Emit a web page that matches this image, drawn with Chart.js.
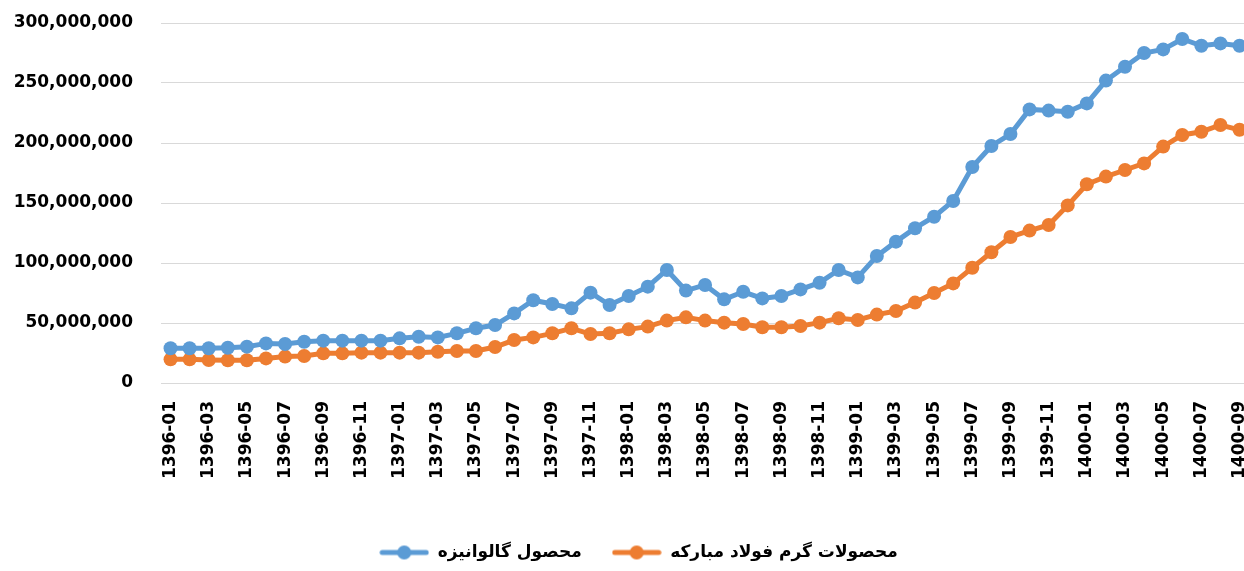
<!DOCTYPE html>
<html>
<head>
<meta charset="utf-8">
<script src="https://cdn.jsdelivr.net/npm/chart.js@4"></script>
<style>
  body { margin: 0; overflow: hidden; background: #fff; }
  #wrap { width: 1278px; height: 571px; }
</style>
</head>
<body>
<div id="wrap"><canvas id="chart"></canvas></div>
<script>
// months (Persian calendar)
const months = [
  "1396-01","1396-02","1396-03","1396-04","1396-05","1396-06","1396-07","1396-08","1396-09","1396-10","1396-11","1396-12",
  "1397-01","1397-02","1397-03","1397-04","1397-05","1397-06","1397-07","1397-08","1397-09","1397-10","1397-11","1397-12",
  "1398-01","1398-02","1398-03","1398-04","1398-05","1398-06","1398-07","1398-08","1398-09","1398-10","1398-11","1398-12",
  "1399-01","1399-02","1399-03","1399-04","1399-05","1399-06","1399-07","1399-08","1399-09","1399-10","1399-11","1399-12",
  "1400-01","1400-02","1400-03","1400-04","1400-05","1400-06","1400-07","1400-08","1400-09"
];

// values in millions
const galvanized = [
  29, 29, 29, 29.4, 30.3, 33, 32.5, 34.4, 35.3, 35.3, 35.3, 35.3,
  37.2, 38.6, 38, 41.4, 45.6, 48.3, 58, 69, 65.8, 62.2, 75.3, 65,
  72.5, 80.3, 94.2, 77, 81.7, 69.7, 76, 70.5, 72.5, 78, 83.6, 94.2,
  88, 105.8, 117.8, 129, 138.6, 151.7, 180, 197.5, 207.5, 228, 227, 226,
  233, 252, 263.6, 275, 278, 286.7, 281, 283, 281
];
const hotRolled = [
  19.7, 19.7, 19.2, 19, 19, 20.5, 22, 22.5, 24.7, 24.7, 25.3, 25.3,
  25.3, 25.3, 26, 26.7, 26.7, 30, 35.8, 38, 41.4, 45.6, 40.8, 41.4,
  44.7, 47, 52, 54.7, 52, 50.3, 49.2, 46.4, 46.4, 47.5, 50.3, 53.9,
  52.5, 57, 60, 67, 75, 83, 96, 109, 121.7, 127, 131.7, 148,
  165.6, 172, 177.5, 183, 197, 206.7, 209.4, 215, 211
];

const seriesNames = ["محصول گالوانیزه", "محصولات گرم فولاد مبارکه"];
const yTicks = [0, 50, 100, 150, 200, 250, 300];

const blue = "#5B9BD5";
const orange = "#ED7D31";
const font = "DejaVu Sans";

// legend marker: line with a dot
function legendMarker(color) {
  const c = document.createElement("canvas");
  c.width = 50;
  c.height = 16;
  const g = c.getContext("2d");
  g.strokeStyle = color;
  g.lineWidth = 5;
  g.lineCap = "round";
  g.beginPath();
  g.moveTo(3, 8);
  g.lineTo(47, 8);
  g.stroke();
  g.fillStyle = color;
  g.beginPath();
  g.arc(25, 8, 7, 0, Math.PI * 2);
  g.fill();
  return c;
}

function makeSet(label, data, color) {
  return {
    label,
    data,
    borderColor: color,
    backgroundColor: color,
    borderWidth: 5,
    pointRadius: 7,
    pointHoverRadius: 7,
    pointBorderWidth: 0,
    pointStyle: "circle",
    tension: 0,
    fill: false
  };
}

const markers = [legendMarker(blue), legendMarker(orange)];

new Chart(document.getElementById("chart"), {
  type: "line",
  data: {
    labels: months,
    datasets: [
      makeSet(seriesNames[0], galvanized, blue),
      makeSet(seriesNames[1], hotRolled, orange)
    ]
  },
  options: {
    responsive: true,
    maintainAspectRatio: false,
    animation: false,
    layout: { padding: { top: 23, right: 1, bottom: 0, left: 0 } },
    plugins: {
      tooltip: { enabled: false },
      legend: {
        position: "bottom",
        labels: {
          usePointStyle: true,
          pointStyleWidth: 50,
          padding: 30,
          color: "#000",
          font: { family: font, size: 17, weight: "bold", lineHeight: 1 },
          generateLabels: chart => chart.data.datasets.map((ds, i) => ({
            text: ds.label,
            pointStyle: markers[i],
            fillStyle: ds.borderColor,
            strokeStyle: ds.borderColor,
            lineWidth: 0,
            fontColor: "#000",
            datasetIndex: i
          }))
        }
      }
    },
    scales: {
      x: {
        offset: true,
        grid: { display: false, drawTicks: false },
        border: { display: false },
        afterFit: scale => { scale.height = 131; },
        ticks: {
          autoSkip: false,
          minRotation: 90,
          maxRotation: 90,
          padding: 18,
          color: "#000",
          font: { family: font, size: 17, weight: "bold" },
          callback: (v, i) => (i % 2 === 0 ? months[i] : "")
        }
      },
      y: {
        min: yTicks[0],
        max: yTicks[yTicks.length - 1],
        afterBuildTicks: scale => { scale.ticks = yTicks.map(v => ({ value: v })); },
        afterFit: scale => {
          scale.width = 161;
          scale.paddingTop = 0;
          scale.paddingBottom = 0;
        },
        grid: { color: "#D9D9D9", lineWidth: 1, drawTicks: false },
        border: { display: false },
        ticks: {
          padding: 28,
          color: "#000",
          font: { family: font, size: 17, weight: "bold" },
          callback: v => (v * 1000000).toLocaleString("en-US")
        }
      }
    }
  }
});
</script>
</body>
</html>
